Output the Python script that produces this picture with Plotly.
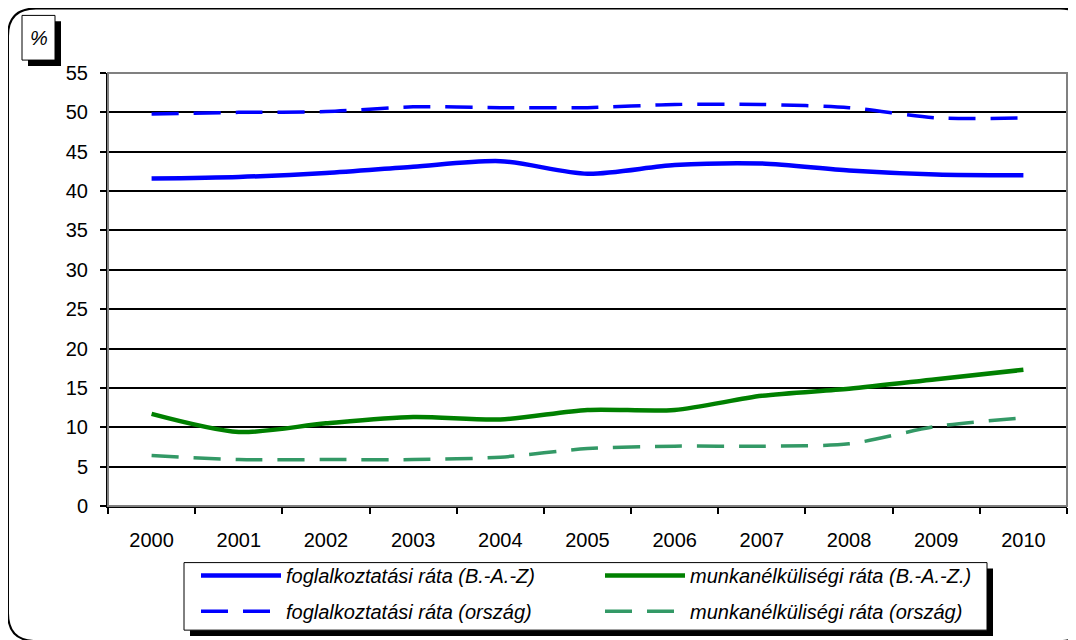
import plotly.graph_objects as go

# data (%)
years = ["2000", "2001", "2002", "2003", "2004", "2005", "2006", "2007", "2008", "2009", "2010"]
fogl_baz = [41.6, 41.8, 42.3, 43.1, 43.8, 42.2, 43.3, 43.5, 42.6, 42.1, 42.0]
fogl_orszag = [49.8, 50.0, 50.1, 50.7, 50.6, 50.6, 51.0, 51.0, 50.6, 49.3, 49.3]
munk_baz = [11.7, 9.4, 10.5, 11.3, 11.0, 12.2, 12.2, 14.0, 14.9, 16.1, 17.3]
munk_orszag = [6.4, 5.9, 5.9, 5.9, 6.2, 7.3, 7.6, 7.6, 7.9, 10.1, 11.2]
y_ticks = list(range(0, 60, 5))

# page has an 8px body margin, so the figure is sized to fit inside the window
OFF = 8
W, H = 1068, 632
L, R, T, B = 100, 9, 65, 131
PW, PH = W - L - R, H - T - B
FONT = "Arial, Liberation Sans, sans-serif"


def px(x):
    # page pixel -> paper x
    return (x - OFF - L) / PW


def py(y):
    # page pixel -> paper y
    return (H - B - (y - OFF)) / PH


def rrect(x0, y0, x1, y1, r):
    pts = [
        ("M", x0 + r, y0), ("L", x1 - r, y0), ("Q", x1, y0, x1, y0 + r),
        ("L", x1, y1 - r), ("Q", x1, y1, x1 - r, y1), ("L", x0 + r, y1),
        ("Q", x0, y1, x0, y1 - r), ("L", x0, y0 + r), ("Q", x0, y0, x0 + r, y0),
    ]
    out = ""
    for p in pts:
        cmd, coords = p[0], p[1:]
        s = []
        for i in range(0, len(coords), 2):
            s.append(f"{px(coords[i]):.5f},{py(coords[i + 1]):.5f}")
        out += cmd + " ".join(s) + " "
    return out + "Z"


fig = go.Figure()

fig.add_trace(go.Scatter(
    x=years, y=fogl_baz, mode="lines", name="foglalkoztatási ráta (B.-A.-Z)",
    line=dict(color="#0000FF", width=4.5, shape="spline", smoothing=0.8),
    legend="legend",
))
fig.add_trace(go.Scatter(
    x=years, y=munk_baz, mode="lines", name="munkanélküliségi ráta (B.-A.-Z.)",
    line=dict(color="#008000", width=4.5, shape="spline", smoothing=0.8),
    legend="legend",
))
fig.add_trace(go.Scatter(
    x=years, y=fogl_orszag, mode="lines", name="foglalkoztatási ráta (ország)",
    line=dict(color="#0000FF", width=3.5, dash="27px,15px", shape="spline", smoothing=0.8),
    legend="legend2",
))
fig.add_trace(go.Scatter(
    x=years, y=munk_orszag, mode="lines", name="munkanélküliségi ráta (ország)",
    line=dict(color="#339966", width=3.5, dash="27px,15px", shape="spline", smoothing=0.8),
    legend="legend2",
))

legend_style = dict(
    orientation="h", xanchor="left", yanchor="middle",
    entrywidth=309, entrywidthmode="pixels", itemwidth=80,
    bgcolor="rgba(0,0,0,0)", borderwidth=0,
    font=dict(family=FONT, size=20, color="black", style="italic"),
)

shapes = [
    # outer chart border
    dict(type="path", xref="paper", yref="paper", path=rrect(8, 8, 1088, 645, 28),
         line=dict(color="black", width=2), layer="below"),
    # plot area border (top/right grey)
    dict(type="rect", xref="paper", yref="paper", x0=0, y0=0, x1=1, y1=1,
         line=dict(color="#808080", width=2), layer="above"),
    # "%" box with shadow
    dict(type="rect", xref="paper", yref="paper", x0=px(28), x1=px(61), y0=py(21), y1=py(66),
         fillcolor="black", line=dict(width=0), layer="below"),
    dict(type="rect", xref="paper", yref="paper", x0=px(22), x1=px(55), y0=py(15), y1=py(60),
         fillcolor="white", line=dict(color="black", width=1), layer="below"),
    # legend box with shadow
    dict(type="rect", xref="paper", yref="paper", x0=px(190), x1=px(993), y0=py(572), y1=py(640),
         fillcolor="black", line=dict(width=0), layer="below"),
    dict(type="rect", xref="paper", yref="paper", x0=px(184), x1=px(987), y0=py(566), y1=py(634),
         fillcolor="white", line=dict(color="black", width=1), layer="below"),
]

fig.update_layout(
    width=W, height=H,
    margin=dict(l=L, r=R, t=T, b=B),
    paper_bgcolor="white", plot_bgcolor="white",
    font=dict(family=FONT, size=20, color="black"),
    showlegend=True,
    legend=dict(x=px(196), y=py(579), **legend_style),
    legend2=dict(x=px(196), y=py(615), **legend_style),
    shapes=shapes,
    annotations=[dict(
        text="%", xref="paper", yref="paper", x=px(38.5), y=py(37.5),
        xanchor="center", yanchor="middle",
        showarrow=False, font=dict(family=FONT, size=20, color="black", style="italic"),
    )],
)

fig.update_xaxes(
    type="category", range=[-0.5, 10.5],
    showline=True, linecolor="black", linewidth=2,
    ticks="outside", tickson="boundaries", ticklen=6, tickcolor="black", tickwidth=2,
    showgrid=False, ticklabelstandoff=15,
    tickfont=dict(family=FONT, size=20, color="black"),
)
fig.update_yaxes(
    range=[0, 55], tickvals=y_ticks,
    showline=True, linecolor="black", linewidth=2,
    ticks="outside", ticklen=6, tickcolor="black", tickwidth=2,
    showgrid=True, gridcolor="black", gridwidth=1.5, zeroline=False,
    ticklabelstandoff=8,
    tickfont=dict(family=FONT, size=20, color="black"),
)

fig.write_html("out.html")
